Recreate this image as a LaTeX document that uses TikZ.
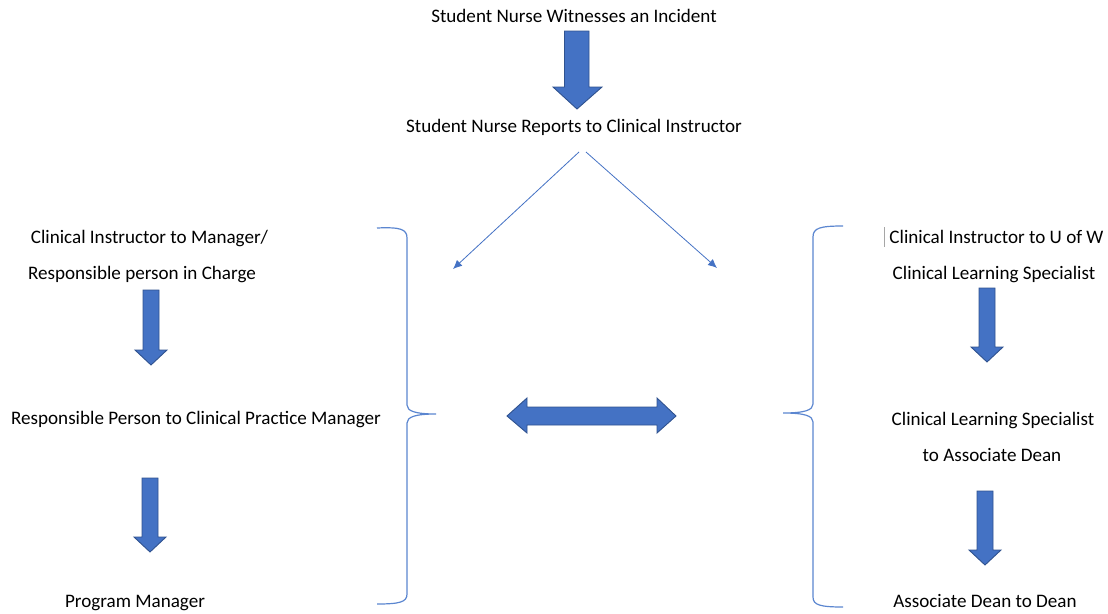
\documentclass[tikz,border=0pt]{standalone}
\usepackage{fontspec}
\setmainfont{Carlito}
\usetikzlibrary{arrows.meta}
\definecolor{afill}{HTML}{4472C4}
\definecolor{aedge}{HTML}{2F528F}
\definecolor{brc}{HTML}{5B86D0}
\tikzset{
  lbl/.style={inner sep=0pt, anchor=base, font=\fontsize{19.1}{21}\selectfont, text=black},
  blk/.style={fill=afill, draw=aedge, line width=0.9pt, line join=miter},
  thin/.style={draw=afill, line width=0.8pt, -{Latex[length=9pt,width=8pt]}},
  brace/.style={draw=brc, line width=1.2pt},
}
\begin{document}
\begin{tikzpicture}[x=1pt,y=-1pt]
\useasboundingbox (0,0) rectangle (1108,613);
% texts (base line positions)
\node[lbl] (t1) at (574,22) {Student Nurse Witnesses an Incident};
\node[lbl] (t2) at (574,132) {Student Nurse Reports to Clinical Instructor};
\node[lbl] (l1) at (149.5,243) {Clinical Instructor to Manager/};
\node[lbl] (l2) at (142,279) {Responsible person in Charge};
\node[lbl] (l3) at (196,424) {Responsible Person to Clinical Practice Manager};
\node[lbl] (l4) at (135,607) {Program Manager};
\node[lbl] (r1) at (996.5,243) {Clinical Instructor to U of W};
\node[lbl] (r2) at (994,279) {Clinical Learning Specialist};
\node[lbl] (r3) at (993,425) {Clinical Learning Specialist};
\node[lbl] (r4) at (992,461) {to Associate Dean};
\node[lbl] (r5) at (985,607) {Associate Dean to Dean};
\draw[gray!70, line width=0.8pt] (884,227) -- (884,247);
% block arrows
\draw[blk] (564.5,31) -- (589,31) -- (589,87) -- (602,87) -- (577,109) -- (553,87) -- (564.5,87) -- cycle;
\draw[blk] (143,290) -- (159,290) -- (159,350) -- (167,350) -- (151,365) -- (135,350) -- (143,350) -- cycle;
\draw[blk] (142,478) -- (158,478) -- (158,537) -- (166,537) -- (150,552) -- (134,537) -- (142,537) -- cycle;
\draw[blk] (979,288) -- (995,288) -- (995,347) -- (1003,347) -- (987,362) -- (971,347) -- (979,347) -- cycle;
\draw[blk] (977,491) -- (993,491) -- (993,550) -- (1001,550) -- (985,565) -- (969,550) -- (977,550) -- cycle;
% double arrow
\draw[blk] (507,416) -- (527,398) -- (527,407) -- (657,407) -- (657,398) -- (676,416) -- (657,433) -- (657,425) -- (527,425) -- (527,433) -- cycle;
% thin arrows
\coordinate (s1) at (579,152);
\coordinate (e1) at (453,269);
\coordinate (s2) at (586,152);
\coordinate (e2) at (717,268);
\draw[thin] (s1) -- (e1);
\draw[thin] (s2) -- (e2);
% braces
\draw[brace] (377,228) .. controls (400,227) and (407,229) .. (407,238) -- (407,405)
  .. controls (407,411) and (415,414) .. (436,414) .. controls (415,414) and (407,417) .. (407,423)
  -- (407,594) .. controls (407,602) and (400,604) .. (377,604);
\draw[brace] (843,226) .. controls (820,226) and (813,228) .. (813,237) -- (813,404)
  .. controls (813,410) and (805,413) .. (783,413) .. controls (805,413) and (813,416) .. (813,422)
  -- (813,597) .. controls (813,605) and (820,607) .. (843,607);
\end{tikzpicture}
\end{document}
